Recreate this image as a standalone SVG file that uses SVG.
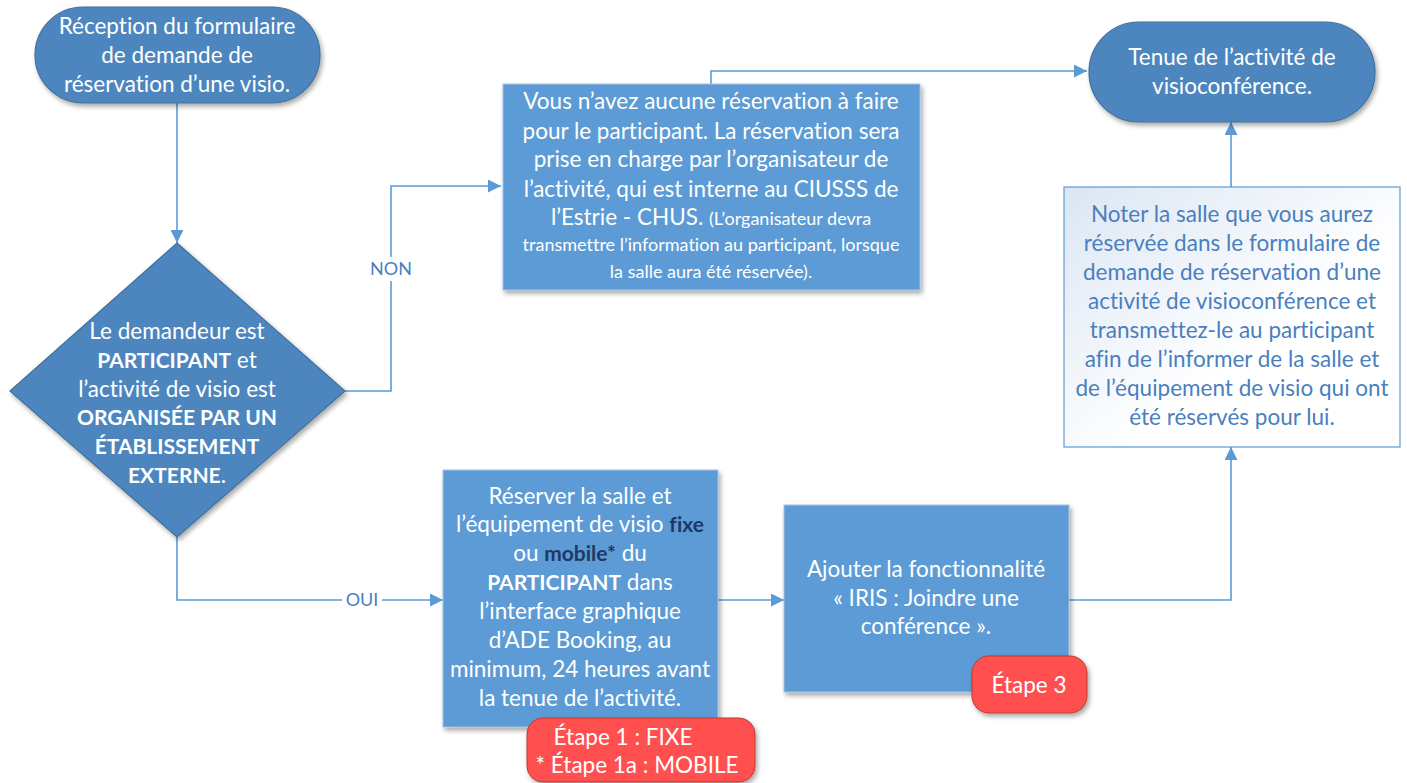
<svg xmlns="http://www.w3.org/2000/svg" width="1407" height="783" viewBox="0 0 1407 783">
<style>
  text { font-family: Lato, "Open Sans", "Liberation Sans", sans-serif; text-anchor: middle; font-variant-ligatures: none; }
  .w { fill: #ffffff; font-size: 22.5px; }
  .ws { fill: #ffffff; font-size: 18px; }
  .b { font-weight: bold; font-size: 21px; }
  .navy { fill: #1f3864; font-weight: bold; font-size: 21px; }
  .lbl { fill: #4a7fbf; font-size: 18px; }
  .blue { fill: #4a7fbf; font-size: 22.5px; }
  .bd { fill: #ffffff; font-size: 22.5px; }
  .term { fill: #4e86be; stroke: #41719c; stroke-width: 1.2; }
  .proc { fill: #5b9bd5; stroke: #a9c3de; stroke-width: 1; }
  .badge { fill: #ff5050; stroke: #c0392b; stroke-width: 1; }
  .conn { fill: none; stroke: #5b9bd5; stroke-width: 1.6; }
</style>
<defs>
  <marker id="arrL" viewBox="0 0 10 10" refX="10" refY="5" markerWidth="13" markerHeight="13" markerUnits="userSpaceOnUse" orient="auto">
    <path d="M0,0 L10,5 L0,10 z" fill="#5b9bd5"/>
  </marker>
  <filter id="sh" x="-10%" y="-10%" width="125%" height="125%">
    <feGaussianBlur in="SourceAlpha" stdDeviation="2.5"/>
    <feOffset dx="2" dy="3" result="o"/>
    <feComponentTransfer><feFuncA type="linear" slope="0.35"/></feComponentTransfer>
    <feMerge><feMergeNode/><feMergeNode in="SourceGraphic"/></feMerge>
  </filter>
  <linearGradient id="g" x1="0" y1="0" x2="1" y2="1">
    <stop offset="0" stop-color="#dbe6f4"/>
    <stop offset="0.6" stop-color="#ffffff"/>
  </linearGradient>
</defs>
<rect width="1407" height="783" fill="#ffffff"/>

<g id="connectors">
  <path class="conn" d="M177,103 V243" marker-end="url(#arrL)"/>
  <path class="conn" d="M345,391 H391 V281"/>
  <path class="conn" d="M391,257 V186 H501" marker-end="url(#arrL)"/>
  <path class="conn" d="M711,84 V71 H1087" marker-end="url(#arrL)"/>
  <path class="conn" d="M177,537 V600 H342"/>
  <path class="conn" d="M382,600 H443" marker-end="url(#arrL)"/>
  <path class="conn" d="M718,600 H784" marker-end="url(#arrL)"/>
  <path class="conn" d="M1069,600 H1231 V447" marker-end="url(#arrL)"/>
  <path class="conn" d="M1231,187 V122" marker-end="url(#arrL)"/>
  <text class="lbl" x="391" y="275">NON</text>
  <text class="lbl" x="362" y="606">OUI</text>
</g>

<g id="start">
  <rect class="term" x="35" y="7" width="285" height="96" rx="48" filter="url(#sh)"/>
  <text class="w" x="177" y="34">Réception du formulaire</text>
  <text class="w" x="177" y="63">de demande de</text>
  <text class="w" x="177" y="92">réservation d’une visio.</text>
</g>

<g id="decision">
  <path class="term" d="M177,243 L345,391 L177,537 L10,391 Z" filter="url(#sh)"/>
  <text class="w" x="177" y="339">Le demandeur est</text>
  <text class="w" x="177" y="368"><tspan class="b">PARTICIPANT</tspan> et</text>
  <text class="w" x="177" y="397">l’activité de visio est</text>
  <text class="w" x="177" y="425"><tspan class="b">ORGANISÉE PAR UN</tspan></text>
  <text class="w" x="177" y="454"><tspan class="b">ÉTABLISSEMENT</tspan></text>
  <text class="w" x="177" y="483"><tspan class="b">EXTERNE</tspan>.</text>
</g>

<g id="non-box">
  <rect class="proc" x="503" y="84" width="417" height="206" filter="url(#sh)"/>
  <text class="w" x="711" y="109">Vous n’avez aucune réservation à faire</text>
  <text class="w" x="711" y="139">pour le participant. La réservation sera</text>
  <text class="w" x="711" y="167">prise en charge par l’organisateur de</text>
  <text class="w" x="711" y="197">l’activité, qui est interne au CIUSSS de</text>
  <text class="w" x="711" y="225">l’Estrie - CHUS. <tspan font-size="18px">(L’organisateur devra</tspan></text>
  <text class="ws" x="711" y="251">transmettre l’information au participant, lorsque</text>
  <text class="ws" x="711" y="278">la salle aura été réservée).</text>
</g>

<g id="tenue">
  <rect class="term" x="1089" y="22" width="286" height="100" rx="50" filter="url(#sh)"/>
  <text class="w" x="1232" y="65">Tenue de l’activité de</text>
  <text class="w" x="1232" y="94">visioconférence.</text>
</g>

<g id="noter">
  <rect x="1064" y="187" width="336" height="260" fill="url(#g)" stroke="#5b9bd5" stroke-width="1.2"/>
  <text class="blue" x="1232" y="222">Noter la salle que vous aurez</text>
  <text class="blue" x="1232" y="251">réservée dans le formulaire de</text>
  <text class="blue" x="1232" y="280">demande de réservation d’une</text>
  <text class="blue" x="1232" y="309">activité de visioconférence et</text>
  <text class="blue" x="1232" y="338">transmettez-le au participant</text>
  <text class="blue" x="1232" y="367">afin de l’informer de la salle et</text>
  <text class="blue" x="1232" y="396">de l’équipement de visio qui ont</text>
  <text class="blue" x="1232" y="425">été réservés pour lui.</text>
</g>

<g id="reserver">
  <rect class="proc" x="443" y="470" width="275" height="257" filter="url(#sh)"/>
  <text class="w" x="580" y="504">Réserver la salle et</text>
  <text class="w" x="580" y="532">l’équipement de visio <tspan class="navy">fixe</tspan></text>
  <text class="w" x="580" y="561">ou <tspan class="navy">mobile*</tspan> du</text>
  <text class="w" x="580" y="590"><tspan class="b">PARTICIPANT</tspan> dans</text>
  <text class="w" x="580" y="619">l’interface graphique</text>
  <text class="w" x="580" y="648">d’ADE Booking, au</text>
  <text class="w" x="580" y="677">minimum, 24 heures avant</text>
  <text class="w" x="580" y="706">la tenue de l’activité.</text>
</g>

<g id="etape1">
  <rect class="badge" x="527" y="718" width="228" height="64" rx="16" filter="url(#sh)"/>
  <text class="bd" x="623" y="745">Étape 1 : FIXE</text>
  <text class="bd" x="637" y="773">* Étape 1a : MOBILE</text>
</g>

<g id="ajouter">
  <rect class="proc" x="784" y="505" width="285" height="187" filter="url(#sh)"/>
  <text class="w" x="926" y="577">Ajouter la fonctionnalité</text>
  <text class="w" x="926" y="606">« IRIS : Joindre une</text>
  <text class="w" x="926" y="634">conférence ».</text>
</g>

<g id="etape3">
  <rect class="badge" x="972" y="656" width="115" height="57" rx="17" filter="url(#sh)"/>
  <text class="bd" x="1029" y="693">Étape 3</text>
</g>
</svg>
